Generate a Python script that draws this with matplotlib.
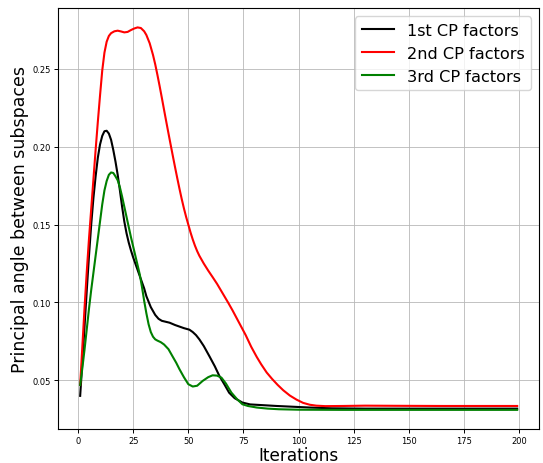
import matplotlib
matplotlib.use("Agg")
import matplotlib.pyplot as plt

# principal angle per iteration for each CP factor subspace
x_1st = [1, 2, 3, 4, 5, 6, 7, 8, 9, 10, 11, 12, 13, 14, 15, 16, 17, 18, 19, 20, 21, 22,
         23, 24, 25, 26, 27, 28, 30, 31, 33, 35, 36.5, 38, 41.5, 44, 46, 48, 50.5, 52,
         53.5, 55, 57, 59.5, 62, 64, 66.5, 68.5, 71, 74.5, 78, 84, 90, 96, 105, 115,
         130, 150, 175, 199]
y_1st = [0.040, 0.062, 0.085, 0.108, 0.130, 0.150, 0.167, 0.181, 0.193, 0.2015, 0.207,
         0.210, 0.2103, 0.2085, 0.2045, 0.198, 0.1905, 0.182, 0.172, 0.1615, 0.152,
         0.1445, 0.1385, 0.1335, 0.129, 0.125, 0.121, 0.117, 0.109, 0.104, 0.097, 0.092,
         0.0895, 0.0882, 0.087, 0.0855, 0.0845, 0.0835, 0.0825, 0.081, 0.079, 0.0763,
         0.072, 0.0656, 0.059, 0.053, 0.047, 0.042, 0.0385, 0.0357, 0.0345, 0.034,
         0.0335, 0.0331, 0.0325, 0.032, 0.0318, 0.0318, 0.0318, 0.0318]

x_2nd = [1, 2, 3, 4, 5, 6, 7, 8, 9, 10, 11, 12, 13, 14, 15, 16.5, 18, 19.5, 21, 22.5,
         24, 25.5, 27, 28.5, 30, 31, 32.5, 34, 35, 36, 37, 38, 39, 40, 41, 42, 43, 44,
         45, 46, 47, 48, 49, 50, 51, 52, 53, 54, 55, 57, 59, 61, 63, 65.5, 68, 70, 73,
         76, 78.5, 81, 83, 85.5, 88, 90.5, 93, 96, 99, 102, 105, 108, 112, 120, 130,
         145, 165, 199]
y_2nd = [0.047, 0.072, 0.097, 0.120, 0.141, 0.160, 0.179, 0.198, 0.216, 0.233, 0.249,
         0.2605, 0.2675, 0.2712, 0.2730, 0.2742, 0.2746, 0.2741, 0.2735, 0.2738,
         0.2750, 0.2760, 0.2767, 0.2763, 0.2742, 0.2718, 0.2665, 0.2590, 0.2530,
         0.2462, 0.2390, 0.2315, 0.2238, 0.2162, 0.2087, 0.2013, 0.1940, 0.1868,
         0.1798, 0.1730, 0.1665, 0.1605, 0.1550, 0.1500, 0.1450, 0.1405, 0.1365,
         0.1330, 0.1300, 0.125, 0.1205, 0.1163, 0.112, 0.106, 0.100, 0.095, 0.087,
         0.079, 0.0715, 0.0650, 0.0603, 0.0550, 0.0508, 0.0470, 0.0436, 0.0402,
         0.0376, 0.0355, 0.0343, 0.0337, 0.0334, 0.0335, 0.0337, 0.0336, 0.0335,
         0.0335]

x_3rd = [1, 2, 3, 4, 5, 6, 7, 8, 9, 10, 11, 12, 13, 14, 15, 16, 17, 18, 19, 20, 21, 22,
         23, 24, 25, 26, 27, 28, 29, 30, 31, 32, 33, 34, 35, 36, 37.5, 39, 41, 43, 44.5,
         46, 48, 50, 52, 54, 56.5, 59, 61, 63, 65, 67, 69.5, 72, 74.5, 77, 81, 86, 91,
         100, 120, 150, 199]
y_3rd = [0.047, 0.058, 0.070, 0.083, 0.096, 0.108, 0.119, 0.130, 0.141, 0.152, 0.163,
         0.172, 0.178, 0.182, 0.1835, 0.1832, 0.181, 0.1785, 0.174, 0.168, 0.1615,
         0.155, 0.1485, 0.142, 0.136, 0.130, 0.124, 0.118, 0.110, 0.101, 0.093, 0.086,
         0.081, 0.078, 0.0763, 0.0755, 0.0745, 0.073, 0.070, 0.065, 0.0613, 0.0571,
         0.052, 0.0475, 0.046, 0.0465, 0.0496, 0.052, 0.0532, 0.053, 0.0517, 0.048,
         0.0421, 0.038, 0.0346, 0.0335, 0.0325, 0.0318, 0.0314, 0.0311, 0.031, 0.031,
         0.031]

fig = plt.figure(figsize=(5.43, 4.64), dpi=100)
ax = fig.add_axes([0.1074, 0.0733, 0.8853, 0.9067])

ax.plot(x_1st, y_1st, color="black", lw=1.5, label="1st CP factors")
ax.plot(x_2nd, y_2nd, color="red", lw=1.5, label="2nd CP factors")
ax.plot(x_3rd, y_3rd, color="green", lw=1.5, label="3rd CP factors")

ax.set_xticks([0, 25, 50, 75, 100, 125, 150, 175, 200])
ax.set_yticks([0.05, 0.10, 0.15, 0.20, 0.25])
ax.tick_params(labelsize=6, length=3, pad=2, width=0.7)
ax.grid(True, color="#b8b8b8", lw=0.6)
for s in ax.spines.values():
    s.set_linewidth(0.8)

ax.set_xlabel("Iterations", fontsize=12.2, labelpad=0.5)
ax.set_ylabel("Principal angle between subspaces", fontsize=12.5, labelpad=3)
ax.legend(loc="upper right", fontsize=11.6)

fig.savefig("out.png", dpi=100)
